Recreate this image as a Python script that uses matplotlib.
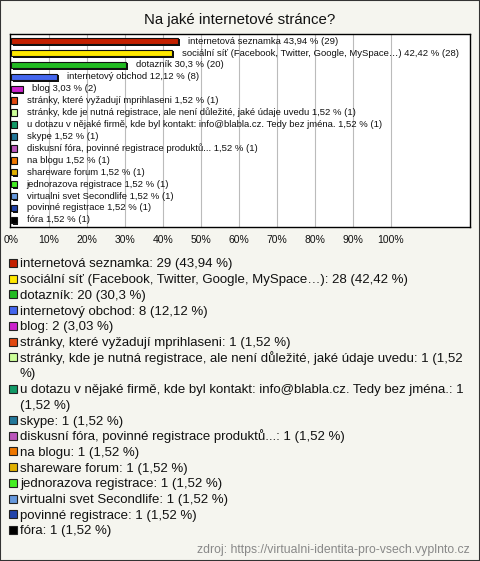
import textwrap
import matplotlib
matplotlib.use('Agg')
import matplotlib.pyplot as plt
from matplotlib.patches import Rectangle
from matplotlib.transforms import offset_copy

plt.rcParams['font.family'] = ['Liberation Sans', 'DejaVu Sans']

# data
answers = ['internetová seznamka',
           'sociální síť (Facebook, Twitter, Google, MySpace…)',
           'dotazník',
           'internetový obchod',
           'blog',
           'stránky, které vyžadují mprihlaseni',
           'stránky, kde je nutná registrace, ale není důležité, jaké údaje uvedu',
           'u dotazu v nějaké firmě, kde byl kontakt: info@blabla.cz. Tedy bez jména.',
           'skype',
           'diskusní fóra, povinné registrace produktů...',
           'na blogu',
           'shareware forum',
           'jednorazova registrace',
           'virtualni svet Secondlife',
           'povinné registrace',
           'fóra']
counts = [29, 28, 20, 8, 2, 1, 1, 1, 1, 1, 1, 1, 1, 1, 1, 1]
percents = [43.94, 42.42, 30.3, 12.12, 3.03, 1.52, 1.52, 1.52, 1.52, 1.52,
            1.52, 1.52, 1.52, 1.52, 1.52, 1.52]
colors = ['#c42000', '#ffe800', '#22bb22', '#4466ee', '#cc22cc', '#e04810',
          '#ccff99', '#119966', '#227799', '#bb55bb', '#ee7700', '#e0b000',
          '#44ee22', '#6699dd', '#2244aa', '#000000']
ticks = [0, 10, 20, 30, 40, 50, 60, 70, 80, 90, 100]


def pct(p):
    return f'{p:g}'.replace('.', ',')


W, H = 480, 561
fig = plt.figure(figsize=(W / 100, H / 100), dpi=100)
fig.patch.set_facecolor('#f5f5ef')
fig.patches.append(Rectangle((0, 0), 1, 1, transform=fig.transFigure,
                             fill=False, edgecolor='#333333', linewidth=1.5))

fig.text(0.5, 1 - 20 / H, 'Na jaké internetové stránce?', ha='center',
         va='center', fontsize=10.8, color='#111111')

ax = fig.add_axes([10 / W, 1 - 227 / H, 460 / W, 193 / H])
ax.set_facecolor('white')
ax.set_xlim(-0.3, 120.8)
ax.set_ylim(15.6, -0.6)
for s in ax.spines.values():
    s.set_color('black')
    s.set_linewidth(1)
for t in ticks[1:]:
    ax.axvline(t, color='#bbbbbb', linewidth=0.8, zorder=0)
ax.set_xticks(ticks)
ax.set_xticklabels([f'{t}%' for t in ticks], fontsize=7.5, color='#111111')
ax.tick_params(axis='x', length=0, pad=6)
ax.set_yticks([])

ypos = list(range(len(answers)))
shadow = offset_copy(ax.transData, fig=fig, x=1.5, y=-1.5, units='dots')
ax.barh(ypos, percents, height=0.55, color='#111111', transform=shadow, zorder=2)
ax.barh(ypos, percents, height=0.55, color=colors, edgecolor='#111111',
        linewidth=0.8, zorder=3)
for y, a, c, p in zip(ypos, answers, counts, percents):
    ax.annotate(f'{a} {pct(p)} % ({c})', (p, y), xytext=(7, 0),
                textcoords='offset points', va='center', fontsize=6.8,
                color='#111111', zorder=4)

# legend below the chart
line = 0
y0 = 263
step = 15.7
for a, c, p, col in zip(answers, counts, percents, colors):
    label = f'{a}: {c} ({pct(p)} %)'
    lines = textwrap.wrap(label, 79)
    yy = y0 + line * step
    fig.patches.append(Rectangle((9 / W, 1 - (yy + 4) / H), 8 / W, 8 / H,
                                 transform=fig.transFigure, facecolor=col,
                                 edgecolor='#222222', linewidth=0.8))
    for k, ln in enumerate(lines):
        fig.text(20 / W, 1 - (yy + k * step + 4.5) / H, ln, ha='left',
                 va='baseline', fontsize=9.5, color='#111111')
    line += len(lines)

fig.text(470 / W, 1 - 553 / H, 'zdroj: https://virtualni-identita-pro-vsech.vyplnto.cz',
         ha='right', va='baseline', fontsize=8.8, color='#888888')

fig.savefig('out.png', dpi=100, facecolor=fig.get_facecolor())
